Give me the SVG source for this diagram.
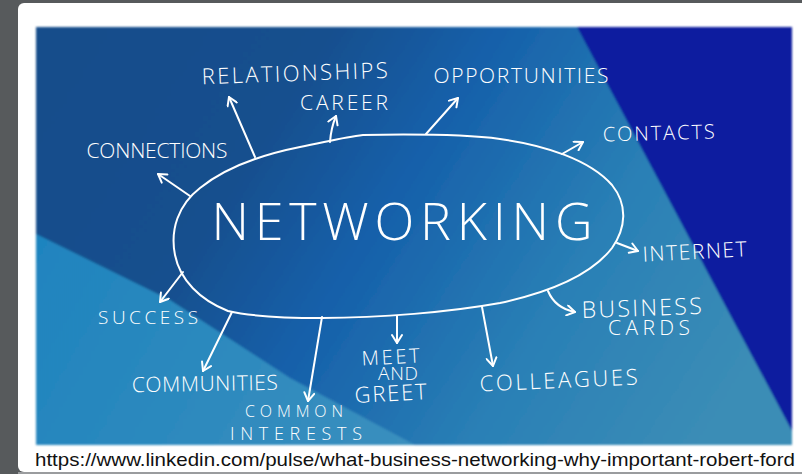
<svg xmlns="http://www.w3.org/2000/svg" width="802" height="474" viewBox="0 0 802 474">
<style>
.lbl{font-family:"Open Sans","Liberation Sans",sans-serif;font-weight:300;fill:#fff;text-anchor:middle}
.con{fill:none;stroke:#fff;stroke-width:2;stroke-linecap:round;stroke-linejoin:round}
</style>
<defs>
<linearGradient id="gMid" x1="36" y1="27" x2="700" y2="445" gradientUnits="userSpaceOnUse">
<stop offset="0" stop-color="#164e8b"/>
<stop offset="0.32" stop-color="#174f8e"/>
<stop offset="0.5" stop-color="#1660aa"/>
<stop offset="0.75" stop-color="#2a80b6"/>
<stop offset="1" stop-color="#3b8db6"/>
</linearGradient>
<linearGradient id="gLow" x1="36" y1="240" x2="400" y2="445" gradientUnits="userSpaceOnUse">
<stop offset="0" stop-color="#1f84bf"/>
<stop offset="1" stop-color="#3a8fbe"/>
</linearGradient>
<filter id="soft" x="-5%" y="-5%" width="110%" height="110%">
<feGaussianBlur stdDeviation="1.2"/>
</filter>
<marker id="ah" viewBox="-10 -6 12 12" refX="0" refY="0" markerWidth="12" markerHeight="12" markerUnits="userSpaceOnUse" orient="auto">
<path d="M-8,-5 L0,0 L-8,5" fill="none" stroke="#fff" stroke-width="2" stroke-linecap="round" stroke-linejoin="round"/>
</marker>
</defs>

<rect x="0" y="0" width="802" height="474" fill="#575a5c"/>
<rect x="18" y="3" width="800" height="469" rx="6" fill="#ffffff"/>
<rect x="18" y="472" width="784" height="2" fill="#9a9c9e"/>

<g id="background" filter="url(#soft)">
<rect x="36" y="27" width="756" height="418" fill="url(#gMid)"/>
<polygon points="36,234 170,300 290,378 415,445 36,445" fill="url(#gLow)"/>
<polygon points="577,27 792,27 792,431" fill="#0a1f9f"/>
</g>

<g id="connectors">
<path class="con" marker-end="url(#ah)" d="M190,196 L158,174"/>
<path class="con" marker-end="url(#ah)" d="M255,157 L229,97"/>
<path class="con" marker-end="url(#ah)" d="M330,142 Q331,128 336,116"/>
<path class="con" marker-end="url(#ah)" d="M426,134 L458,98"/>
<path class="con" marker-end="url(#ah)" d="M562,154 L583,142"/>
<path class="con" marker-end="url(#ah)" d="M617,243 L638,251"/>
<path class="con" marker-end="url(#ah)" d="M548,291 Q555,308 575,312"/>
<path class="con" marker-end="url(#ah)" d="M482,307 L493,366"/>
<path class="con" marker-end="url(#ah)" d="M397,316 L397,343"/>
<path class="con" marker-end="url(#ah)" d="M322,317 L308,401"/>
<path class="con" marker-end="url(#ah)" d="M232,312 L203,371"/>
<path class="con" marker-end="url(#ah)" d="M183,272 L160,302"/>
</g>

<g id="networking">
<path class="con" d="M363,135 C420,134 470,135 500,139 C545,145 590,160 612,185 C628,205 626,228 612,248 C595,270 560,290 500,303 C450,312 380,318 322,318 C280,318 245,315 228,311 C200,300 180,280 175,255 C170,230 178,205 200,188 C225,168 260,155 300,147 C330,141 345,137 363,135 Z"/>
<text class="lbl" x="402" y="240" font-size="52" textLength="381" lengthAdjust="spacing">NETWORKING</text>
</g>

<g id="relationships"><text class="lbl" x="295" y="81" font-size="22" textLength="186" lengthAdjust="spacing" transform="rotate(-2 295 81)">RELATIONSHIPS</text></g>
<g id="career"><text class="lbl" x="344" y="110" font-size="21" textLength="88" lengthAdjust="spacing">CAREER</text></g>
<g id="connections"><text class="lbl" x="157" y="158" font-size="21" textLength="141" lengthAdjust="spacing">CONNECTIONS</text></g>
<g id="opportunities"><text class="lbl" x="521" y="83" font-size="21" textLength="175" lengthAdjust="spacing">OPPORTUNITIES</text></g>
<g id="contacts"><text class="lbl" x="659" y="140" font-size="20" textLength="112" lengthAdjust="spacing" transform="rotate(-1.5 659 140)">CONTACTS</text></g>
<g id="internet"><text class="lbl" x="695" y="259" font-size="21" textLength="104" lengthAdjust="spacing" transform="rotate(-3 695 259)">INTERNET</text></g>
<g id="business-cards">
<text class="lbl" x="642" y="316" font-size="23" textLength="120" lengthAdjust="spacing" transform="rotate(-2 642 316)">BUSINESS</text>
<text class="lbl" x="649" y="335" font-size="21" textLength="82" lengthAdjust="spacing">CARDS</text>
</g>
<g id="colleagues"><text class="lbl" x="559" y="388" font-size="22" textLength="158" lengthAdjust="spacing" transform="rotate(-2.5 559 388)">COLLEAGUES</text></g>
<g id="meet-and-greet">
<text class="lbl" x="391" y="364" font-size="20" textLength="58" lengthAdjust="spacing" transform="rotate(-3 391 364)">MEET</text>
<text class="lbl" x="398" y="380" font-size="19" textLength="40" lengthAdjust="spacing">AND</text>
<text class="lbl" x="391" y="401" font-size="22" textLength="72" lengthAdjust="spacing" transform="rotate(-3 391 401)">GREET</text>
</g>
<g id="common-interests">
<text class="lbl" x="294" y="417" font-size="16" textLength="98" lengthAdjust="spacing">COMMON</text>
<text class="lbl" x="296" y="440" font-size="18" textLength="132" lengthAdjust="spacing">INTERESTS</text>
</g>
<g id="communities"><text class="lbl" x="205" y="391" font-size="21" textLength="146" lengthAdjust="spacing" transform="rotate(-1 205 391)">COMMUNITIES</text></g>
<g id="success"><text class="lbl" x="148" y="324" font-size="19" textLength="100" lengthAdjust="spacing">SUCCESS</text></g>

<text x="35" y="466" font-family="'Liberation Sans',Arial,sans-serif" font-size="18.5" fill="#111111" textLength="760" lengthAdjust="spacingAndGlyphs">https://www.linkedin.com/pulse/what-business-networking-why-important-robert-ford</text>
</svg>
